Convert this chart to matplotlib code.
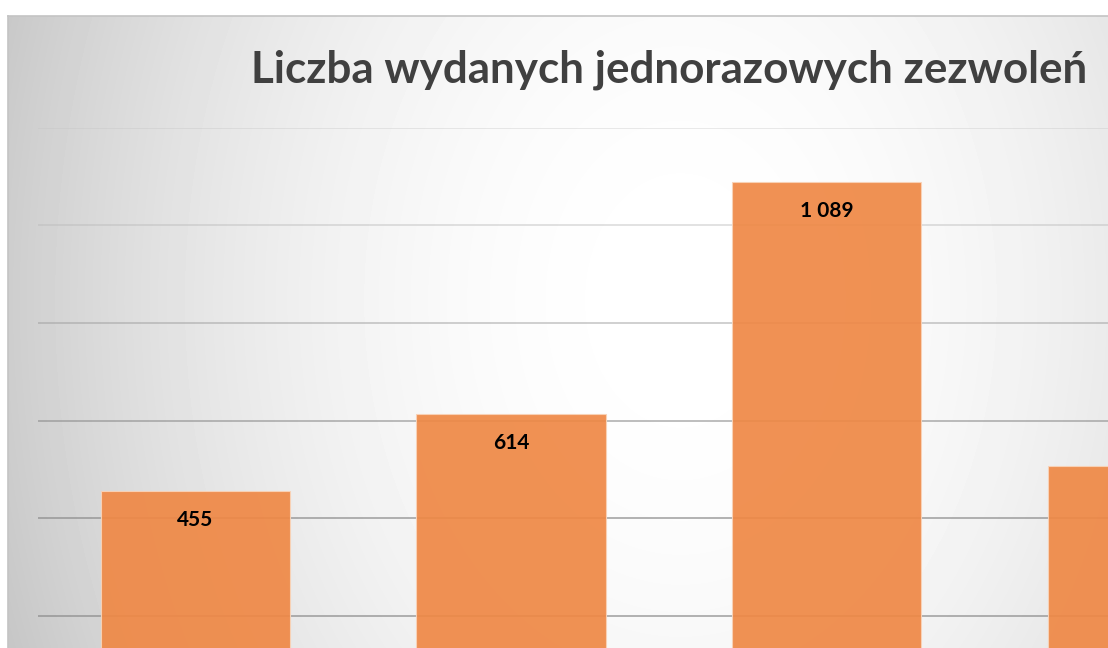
import matplotlib.pyplot as plt
import numpy as np

# ===== dane wykresu
categories = ["A", "B", "C", "D"]
values = [455, 614, 1089, 507]
labels = ["455", "614", "1 089", ""]
y_ticks = [200, 400, 600, 800, 1000, 1200]
title = "Liczba wydanych jednorazowych zezwoleń"


def main():
    W, H = 1108, 648
    fig = plt.figure(figsize=(W / 100, H / 100), dpi=100)
    fig.patch.set_facecolor("white")

    # ===== tło z gradientem radialnym (obszar wykresu)
    bx0, by0 = 8, 16
    bg = fig.add_axes([bx0 / W, 0, (W - bx0) / W, (H - by0) / H])
    xx, yy = np.meshgrid(np.arange(bx0, W), np.arange(by0, H))
    d = np.sqrt((xx - 680) ** 2 + ((yy - 300) * 0.75) ** 2)
    shade = 255 - 47 * (d / 655) ** 2
    shade = np.clip(shade, 188, 255) / 255
    bg.imshow(shade, cmap="gray", vmin=0, vmax=1, aspect="auto",
              interpolation="bilinear")
    bg.set_xticks([])
    bg.set_yticks([])
    for s in bg.spines.values():
        s.set_visible(False)
    bg.spines["left"].set_visible(True)
    bg.spines["top"].set_visible(True)
    bg.spines["left"].set_color("#c4c4c4")
    bg.spines["top"].set_color("#c4c4c4")
    bg.spines["left"].set_linewidth(1.2)
    bg.spines["top"].set_linewidth(1.2)

    # ===== wykres słupkowy
    y0_px, y1200_px = 713, 128
    left_px, cat_px = 37.5, 315.7
    ax = fig.add_axes([left_px / W, (H - y0_px) / H,
                       cat_px * len(categories) / W, (y0_px - y1200_px) / H])
    ax.set_facecolor("none")
    ax.set_xlim(-0.5, len(categories) - 0.5)
    ax.set_ylim(0, 1200)

    grid_colors = ["#8a8a8a", "#8a8a8a", "#8a8a8a", "#9a9a9a", "#b8b8b8", "#c4c4c4"]
    grid_alpha = [0.7, 0.7, 0.6, 0.5, 0.45, 0.4]
    for yt, gc, ga in zip(y_ticks, grid_colors, grid_alpha):
        ax.axhline(yt, color=gc, alpha=ga, linewidth=1.3, zorder=1)

    x = np.arange(len(categories))
    ax.bar(x, values, width=0.6, color="#ef8845", alpha=0.92,
           edgecolor="#f9d3b8", linewidth=0.8, zorder=2)

    for xi, v, lab in zip(x, values, labels):
        if lab:
            ax.text(xi, v - 60, lab, ha="center", va="center",
                    fontsize=15, fontweight="bold", color="black",
                    family=["Lato", "DejaVu Sans"], zorder=3)

    ax.set_xticks([])
    ax.set_yticks([])
    for s in ax.spines.values():
        s.set_visible(False)

    # ===== tytuł
    fig.text(669.5 / W, 1 - 70 / H, title, ha="center", va="center",
             fontsize=31.7, fontweight="bold", color="#404040",
             family=["Lato", "DejaVu Sans"])

    fig.savefig("out.png", dpi=100)


if __name__ == "__main__":
    main()
